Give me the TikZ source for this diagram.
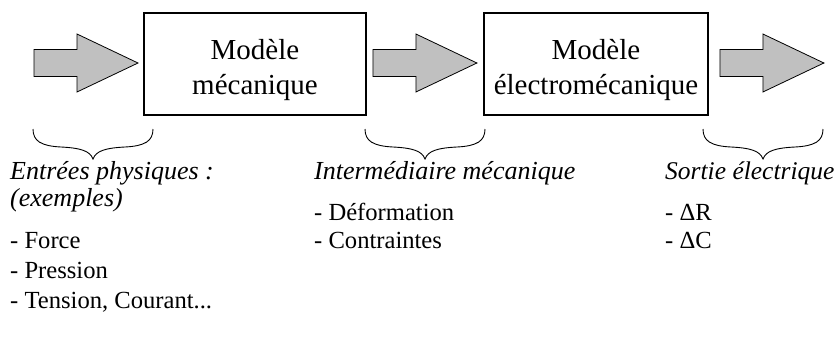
\documentclass[tikz,border=0pt]{standalone}
\usepackage{fontspec}
\setmainfont{Liberation Serif}
\usetikzlibrary{calc}
\definecolor{arrowgray}{HTML}{C0C0C0}
\newcommand\myblockarrow[1]{%
  \filldraw[blockarrow] (#1) ++(0,-13.5) -- ++(43,0) -- ++(0,-15.5) -- ++(61,29)
    -- ++(-61,29) -- ++(0,-15.5) -- ++(-43,0) -- cycle;}
\newcommand\mybrace[1]{%
  \begin{scope}[shift={(#1,0)}]
  \draw[bracestyle] (-60,129) .. controls (-60,141) and (-52,146) .. (-32,147)
    .. controls (-12,148) and (-3,151) .. (0,159)
    .. controls (3,151) and (12,148) .. (32,147)
    .. controls (52,146) and (60,141) .. (60,129);
  \end{scope}}
\begin{document}
\begin{tikzpicture}[x=1pt,y=-1pt,
  modbox/.style={draw, line width=1.8pt, minimum width=222pt, minimum height=102pt, inner sep=0pt},
  boxtxt/.style={font=\fontsize{29}{36}\selectfont, anchor=base, inner sep=0pt},
  blockarrow/.style={draw=black, line width=0.8pt, fill=arrowgray, line join=miter},
  bracestyle/.style={line width=0.9pt},
  headtxt/.style={font=\fontsize{26}{30}\selectfont\itshape, anchor=base west, inner sep=0pt},
  itemtxt/.style={font=\fontsize{24.6}{30}\selectfont, anchor=base west, inner sep=0pt}]
\useasboundingbox (0,0) rectangle (835,338);
\fill[white] (0,0) rectangle (835,338);

% boxes
\node[modbox] (b1) at (255,64) {};
\node[modbox, minimum width=224pt] (b2) at (596,64) {};
\node[boxtxt] (m1) at (255,59) {Modèle};
\node[boxtxt] (m1b) at (255,94) {mécanique};
\node[boxtxt] (m2) at (596,59) {Modèle};
\node[boxtxt] (m2b) at (596,94) {électromécanique};

% block arrows
\coordinate (a1) at (34,63);
\coordinate (a2) at ($(b1.east)+(6,-1)$);
\coordinate (a3) at ($(b2.east)+(11,-1)$);
\myblockarrow{a1}
\myblockarrow{a2}
\myblockarrow{a3}

% braces
\mybrace{93}
\mybrace{425}
\mybrace{763}

% texts
\node[headtxt] (h1) at (10,179) {Entrées physiques :};
\node[headtxt] (h1b) at (10,206) {(exemples)};
\node[itemtxt] (i1) at (10,248) {- Force};
\node[itemtxt] (i2) at (10,278) {- Pression};
\node[itemtxt] (i3) at (10,308) {- Tension, Courant...};

\node[headtxt] (h2) at (314,179) {Intermédiaire mécanique};
\node[itemtxt] (j1) at (314,220) {- Déformation};
\node[itemtxt] (j2) at (314,248) {- Contraintes};

\node[headtxt, font=\fontsize{25.5}{30}\selectfont\itshape] (h3) at (665,179) {Sortie électrique};
\node[itemtxt] (k1) at (665,220) {- ΔR};
\node[itemtxt] (k2) at (665,248) {- ΔC};
\end{tikzpicture}
\end{document}
